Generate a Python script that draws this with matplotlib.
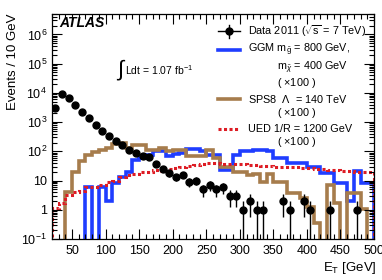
import numpy as np
import matplotlib
matplotlib.use("Agg")
import matplotlib.pyplot as plt
from matplotlib.ticker import FixedLocator, FixedFormatter, MultipleLocator, LogLocator, NullFormatter

plt.rcParams['font.family'] = ['Liberation Sans', 'DejaVu Sans']
plt.rcParams['mathtext.fontset'] = 'custom'
plt.rcParams['mathtext.rm'] = 'Liberation Sans'
plt.rcParams['mathtext.it'] = 'Liberation Sans:italic'
plt.rcParams['mathtext.bf'] = 'Liberation Sans:bold'

# 10 GeV bins from 20 to 500 GeV
edges = np.arange(20, 510, 10)
centers = edges[:-1] + 5

# Data 2011 (events per bin)
data = [3000, 9500, 6500, 3900, 2150, 1350, 800, 500, 330, 220,
        160, 115, 87, 68, 65, 37, 26, 18, 13, 16,
        9, 10, 5, 7, 5, 6, 3, 3, 1, 2,
        1, 1, 0, 0, 2, 1, 0, 2, 1, 0,
        0, 1, 0, 0, 0, 1, 0, 0]

# GGM (x100)
ggm = [0, 0, 0, 0, 0, 6, 0, 6, 2, 8,
       13, 20, 50, 60, 75, 100, 100, 70, 80, 90,
       125, 125, 100, 75, 75, 23, 23, 75, 100, 100,
       110, 110, 100, 58, 58, 40, 40, 40, 29, 29,
       18, 18, 8.5, 8.5, 2, 22, 8, 8]

# SPS8 (x100)
sps8 = [0, 0, 4, 20, 47, 75, 95, 115, 130, 185,
        190, 130, 160, 160, 110, 115, 130, 100, 110, 110,
        70, 70, 70, 110, 60, 30, 30, 20, 20, 15,
        17, 9, 17, 9, 9, 3.7, 3.7, 2.5, 1.3, 0.35,
        0, 7, 1.7, 0, 3.7, 3.7, 1.1, 0]

# UED (x100)
ued = [1.2, 1.7, 3.2, 4, 4.5, 6, 6, 7, 9, 10,
       13, 15, 17, 19, 19, 23, 22, 26, 28, 30,
       32, 34, 36, 40, 40, 38, 38, 36, 36, 34,
       34, 32, 32, 30, 30, 29, 29, 28, 27, 26,
       25, 24, 23, 22, 21, 20, 19, 19]

floor = 1e-4

fig = plt.figure(figsize=(3.82, 2.8), dpi=100)
ax = fig.add_axes([0.136, 0.146, 0.843, 0.804])
ax.set_yscale('log')

blue = '#1f3dff'
brown = '#a67c4c'
red = '#dd1c24'

ax.stairs(np.maximum(ggm, floor), edges, baseline=floor, color=blue, lw=2.6)
ax.stairs(np.maximum(sps8, floor), edges, baseline=floor, color=brown, lw=2.6)
ax.stairs(np.maximum(ued, floor), edges, baseline=floor, color=red, lw=2.2,
          linestyle=(0, (1, 0.8)))

d = np.array(data, dtype=float)
m = d > 0
err = np.sqrt(d[m])
lo = np.minimum(err, d[m] - floor)
ax.errorbar(centers[m], d[m], yerr=[lo, err], fmt='o', color='black',
            ms=5, elinewidth=1.0, capsize=0)

ax.set_xlim(20, 500)
ax.set_ylim(0.1, 5e6)

ax.xaxis.set_major_locator(MultipleLocator(50))
ax.xaxis.set_minor_locator(MultipleLocator(10))
yt = [0.1, 1, 10, 1e2, 1e3, 1e4, 1e5, 1e6]
ax.yaxis.set_major_locator(FixedLocator(yt))
ax.yaxis.set_major_formatter(FixedFormatter(['$10^{-1}$', '1', '10', '$10^{2}$', '$10^{3}$',
                                             '$10^{4}$', '$10^{5}$', '$10^{6}$']))
ax.yaxis.set_minor_locator(LogLocator(base=10, subs=np.arange(2, 10)))
ax.yaxis.set_minor_formatter(NullFormatter())
ax.tick_params(which='both', direction='in', top=True, right=True, labelsize=9, width=0.8)
ax.tick_params(which='major', length=7)
ax.tick_params(which='minor', length=3.5)
ax.tick_params(axis='x', pad=4)
for s in ax.spines.values():
    s.set_linewidth(0.9)

ax.set_ylabel('Events / 10 GeV', fontsize=9.5, loc='top', labelpad=2)
fig.text(0.985, 0.042, 'E$_{\\mathrm{T}}$ [GeV]', fontsize=9.5, ha='right', va='center')

ax.text(0.022, 0.962, 'ATLAS', transform=ax.transAxes, fontsize=10,
        fontweight='bold', fontstyle='italic', va='center')
ax.text(0.198, 0.75, '$\\int$', transform=ax.transAxes, fontsize=16, va='center')
ax.text(0.228, 0.75, 'Ldt = 1.07 fb$^{-1}$', transform=ax.transAxes,
        fontsize=7.5, va='center')

# legend drawn by hand
lx0, lx1, tx, ix = 0.516, 0.584, 0.609, 0.70
fs = 7.8
ax.plot([lx0, lx1], [0.924, 0.924], transform=ax.transAxes, color='black', lw=1.0)
ax.plot([(lx0 + lx1) / 2], [0.924], 'o', transform=ax.transAxes, color='black', ms=5)
ax.plot([(lx0 + lx1) / 2] * 2, [0.895, 0.953], transform=ax.transAxes, color='black', lw=1.0)
ax.text(tx, 0.924, 'Data 2011 ($\\sqrt{\\mathrm{s}}$ = 7 TeV)', transform=ax.transAxes,
        fontsize=fs, va='center')
ax.plot([lx0, lx1], [0.84, 0.84], transform=ax.transAxes, color=blue, lw=2.6)
ax.text(tx, 0.84, 'GGM m$_{\\tilde{\\mathrm{g}}}$ = 800 GeV,', transform=ax.transAxes,
        fontsize=fs, va='center')
ax.text(ix, 0.76, 'm$_{\\tilde{\\chi}}$ = 400 GeV', transform=ax.transAxes,
        fontsize=fs, va='center')
ax.text(ix, 0.693, '( $\\times$100 )', transform=ax.transAxes, fontsize=fs, va='center')
ax.plot([lx0, lx1], [0.622, 0.622], transform=ax.transAxes, color=brown, lw=2.6)
ax.text(tx, 0.622, 'SPS8  $\\Lambda$  = 140 TeV', transform=ax.transAxes,
        fontsize=fs, va='center')
ax.text(ix, 0.56, '( $\\times$100 )', transform=ax.transAxes, fontsize=fs, va='center')
ax.plot([lx0, lx1], [0.489, 0.489], transform=ax.transAxes, color=red, lw=2.2,
        linestyle=(0, (1, 0.8)))
ax.text(tx, 0.489, 'UED 1/R = 1200 GeV', transform=ax.transAxes, fontsize=fs, va='center')
ax.text(ix, 0.431, '( $\\times$100 )', transform=ax.transAxes, fontsize=fs, va='center')

fig.savefig('out.png', dpi=100)
